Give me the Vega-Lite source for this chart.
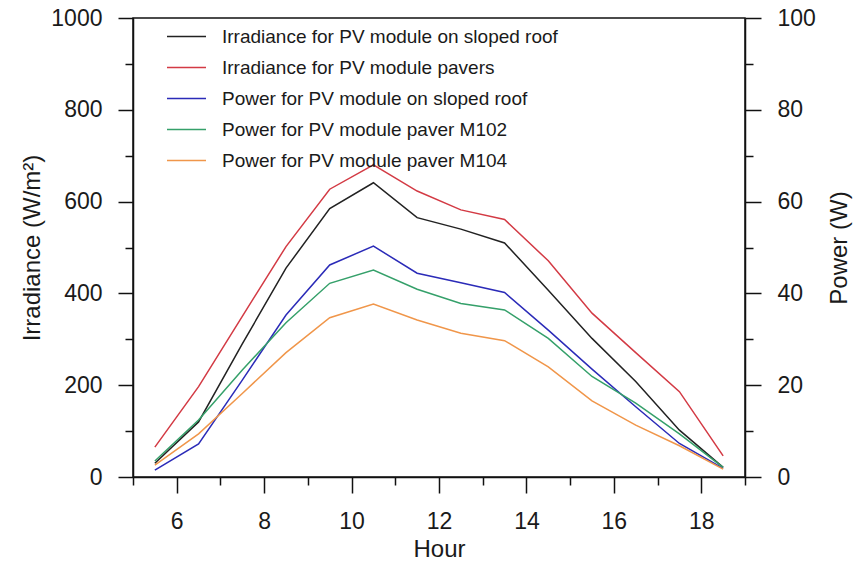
{
  "$schema": "https://vega.github.io/schema/vega-lite/v6.json",
  "width": 612,
  "height": 459,
  "autosize": {"type": "none"},
  "padding": {"left": 133, "top": 18, "right": 110, "bottom": 90},
  "background": "white",
  "config": {
    "view": {"stroke": "#111", "strokeWidth": 1.5},
    "font": "Liberation Sans",
    "axis": {
      "grid": false,
      "domainColor": "#111",
      "domainWidth": 1.5,
      "tickColor": "#111",
      "tickWidth": 1.5,
      "labelFont": "Liberation Sans",
      "labelFontSize": 23,
      "labelColor": "#1a1a1a",
      "titleFont": "Liberation Sans",
      "titleFontSize": 24,
      "titleFontWeight": "normal",
      "titleColor": "#1a1a1a"
    },
    "legend": {
      "labelFont": "Liberation Sans",
      "labelFontSize": 19,
      "labelColor": "#1a1a1a",
      "labelLimit": 0
    }
  },
  "data": {
    "values": [
      {"hour": 5.5, "series": "Irradiance for PV module on sloped roof", "kind": "irr", "value": 30},
      {"hour": 6.5, "series": "Irradiance for PV module on sloped roof", "kind": "irr", "value": 120},
      {"hour": 7.5, "series": "Irradiance for PV module on sloped roof", "kind": "irr", "value": 290},
      {"hour": 8.5, "series": "Irradiance for PV module on sloped roof", "kind": "irr", "value": 455},
      {"hour": 9.5, "series": "Irradiance for PV module on sloped roof", "kind": "irr", "value": 585},
      {"hour": 10.5, "series": "Irradiance for PV module on sloped roof", "kind": "irr", "value": 641},
      {"hour": 11.5, "series": "Irradiance for PV module on sloped roof", "kind": "irr", "value": 565},
      {"hour": 12.5, "series": "Irradiance for PV module on sloped roof", "kind": "irr", "value": 540},
      {"hour": 13.5, "series": "Irradiance for PV module on sloped roof", "kind": "irr", "value": 510},
      {"hour": 14.5, "series": "Irradiance for PV module on sloped roof", "kind": "irr", "value": 407},
      {"hour": 15.5, "series": "Irradiance for PV module on sloped roof", "kind": "irr", "value": 302},
      {"hour": 16.5, "series": "Irradiance for PV module on sloped roof", "kind": "irr", "value": 208},
      {"hour": 17.5, "series": "Irradiance for PV module on sloped roof", "kind": "irr", "value": 102},
      {"hour": 18.5, "series": "Irradiance for PV module on sloped roof", "kind": "irr", "value": 21},

      {"hour": 5.5, "series": "Irradiance for PV module pavers", "kind": "irr", "value": 65},
      {"hour": 6.5, "series": "Irradiance for PV module pavers", "kind": "irr", "value": 197},
      {"hour": 7.5, "series": "Irradiance for PV module pavers", "kind": "irr", "value": 350},
      {"hour": 8.5, "series": "Irradiance for PV module pavers", "kind": "irr", "value": 502},
      {"hour": 9.5, "series": "Irradiance for PV module pavers", "kind": "irr", "value": 627},
      {"hour": 10.5, "series": "Irradiance for PV module pavers", "kind": "irr", "value": 680},
      {"hour": 11.5, "series": "Irradiance for PV module pavers", "kind": "irr", "value": 623},
      {"hour": 12.5, "series": "Irradiance for PV module pavers", "kind": "irr", "value": 582},
      {"hour": 13.5, "series": "Irradiance for PV module pavers", "kind": "irr", "value": 561},
      {"hour": 14.5, "series": "Irradiance for PV module pavers", "kind": "irr", "value": 471},
      {"hour": 15.5, "series": "Irradiance for PV module pavers", "kind": "irr", "value": 357},
      {"hour": 16.5, "series": "Irradiance for PV module pavers", "kind": "irr", "value": 271},
      {"hour": 17.5, "series": "Irradiance for PV module pavers", "kind": "irr", "value": 186},
      {"hour": 18.5, "series": "Irradiance for PV module pavers", "kind": "irr", "value": 46},

      {"hour": 5.5, "series": "Power for PV module on sloped roof", "kind": "pow", "value": 1.5},
      {"hour": 6.5, "series": "Power for PV module on sloped roof", "kind": "pow", "value": 7.2},
      {"hour": 7.5, "series": "Power for PV module on sloped roof", "kind": "pow", "value": 21.1},
      {"hour": 8.5, "series": "Power for PV module on sloped roof", "kind": "pow", "value": 35.3},
      {"hour": 9.5, "series": "Power for PV module on sloped roof", "kind": "pow", "value": 46.2},
      {"hour": 10.5, "series": "Power for PV module on sloped roof", "kind": "pow", "value": 50.3},
      {"hour": 11.5, "series": "Power for PV module on sloped roof", "kind": "pow", "value": 44.4},
      {"hour": 12.5, "series": "Power for PV module on sloped roof", "kind": "pow", "value": 42.3},
      {"hour": 13.5, "series": "Power for PV module on sloped roof", "kind": "pow", "value": 40.2},
      {"hour": 14.5, "series": "Power for PV module on sloped roof", "kind": "pow", "value": 32.0},
      {"hour": 15.5, "series": "Power for PV module on sloped roof", "kind": "pow", "value": 23.5},
      {"hour": 16.5, "series": "Power for PV module on sloped roof", "kind": "pow", "value": 15.3},
      {"hour": 17.5, "series": "Power for PV module on sloped roof", "kind": "pow", "value": 7.3},
      {"hour": 18.5, "series": "Power for PV module on sloped roof", "kind": "pow", "value": 1.9},

      {"hour": 5.5, "series": "Power for PV module paver M102", "kind": "pow", "value": 3.5},
      {"hour": 6.5, "series": "Power for PV module paver M102", "kind": "pow", "value": 12.4},
      {"hour": 7.5, "series": "Power for PV module paver M102", "kind": "pow", "value": 23.3},
      {"hour": 8.5, "series": "Power for PV module paver M102", "kind": "pow", "value": 33.6},
      {"hour": 9.5, "series": "Power for PV module paver M102", "kind": "pow", "value": 42.2},
      {"hour": 10.5, "series": "Power for PV module paver M102", "kind": "pow", "value": 45.1},
      {"hour": 11.5, "series": "Power for PV module paver M102", "kind": "pow", "value": 40.9},
      {"hour": 12.5, "series": "Power for PV module paver M102", "kind": "pow", "value": 37.8},
      {"hour": 13.5, "series": "Power for PV module paver M102", "kind": "pow", "value": 36.4},
      {"hour": 14.5, "series": "Power for PV module paver M102", "kind": "pow", "value": 30.2},
      {"hour": 15.5, "series": "Power for PV module paver M102", "kind": "pow", "value": 21.9},
      {"hour": 16.5, "series": "Power for PV module paver M102", "kind": "pow", "value": 16.1},
      {"hour": 17.5, "series": "Power for PV module paver M102", "kind": "pow", "value": 9.4},
      {"hour": 18.5, "series": "Power for PV module paver M102", "kind": "pow", "value": 2.1},

      {"hour": 5.5, "series": "Power for PV module paver M104", "kind": "pow", "value": 2.6},
      {"hour": 6.5, "series": "Power for PV module paver M104", "kind": "pow", "value": 9.4},
      {"hour": 7.5, "series": "Power for PV module paver M104", "kind": "pow", "value": 18.2},
      {"hour": 8.5, "series": "Power for PV module paver M104", "kind": "pow", "value": 27.1},
      {"hour": 9.5, "series": "Power for PV module paver M104", "kind": "pow", "value": 34.7},
      {"hour": 10.5, "series": "Power for PV module paver M104", "kind": "pow", "value": 37.7},
      {"hour": 11.5, "series": "Power for PV module paver M104", "kind": "pow", "value": 34.2},
      {"hour": 12.5, "series": "Power for PV module paver M104", "kind": "pow", "value": 31.3},
      {"hour": 13.5, "series": "Power for PV module paver M104", "kind": "pow", "value": 29.7},
      {"hour": 14.5, "series": "Power for PV module paver M104", "kind": "pow", "value": 24.0},
      {"hour": 15.5, "series": "Power for PV module paver M104", "kind": "pow", "value": 16.6},
      {"hour": 16.5, "series": "Power for PV module paver M104", "kind": "pow", "value": 11.3},
      {"hour": 17.5, "series": "Power for PV module paver M104", "kind": "pow", "value": 6.8},
      {"hour": 18.5, "series": "Power for PV module paver M104", "kind": "pow", "value": 1.7}
    ]
  },
  "encoding": {
    "x": {
      "field": "hour",
      "type": "quantitative",
      "scale": {"domain": [5, 19], "nice": false, "zero": false},
      "axis": {
        "title": "Hour",
        "values": [5, 6, 7, 8, 9, 10, 11, 12, 13, 14, 15, 16, 17, 18, 19],
        "labelExpr": "datum.value % 2 === 0 && datum.value > 5 && datum.value < 19 ? datum.label : ''",
        "tickSize": {"condition": {"test": "datum.value % 2 === 0", "value": 16}, "value": 8},
        "labelPadding": 17,
        "titlePadding": 4,
        "labelFlush": false
      }
    },
    "color": {
      "field": "series",
      "type": "nominal",
      "scale": {
        "domain": [
          "Irradiance for PV module on sloped roof",
          "Irradiance for PV module pavers",
          "Power for PV module on sloped roof",
          "Power for PV module paver M102",
          "Power for PV module paver M104"
        ],
        "range": ["#222222", "#d33a44", "#2b2bb8", "#35a06a", "#f0964a"]
      },
      "legend": {
        "title": null,
        "orient": "none",
        "legendX": 33,
        "legendY": -2,
        "symbolType": "stroke",
        "symbolSize": 1521,
        "symbolStrokeWidth": 1.5,
        "labelOffset": 15,
        "labelLimit": 0,
        "rowPadding": -5.5,
        "padding": 0
      }
    }
  },
  "layer": [
    {
      "transform": [{"filter": "datum.kind === 'irr'"}],
      "mark": {"type": "line", "strokeWidth": 1.5},
      "encoding": {
        "y": {
          "field": "value",
          "type": "quantitative",
          "scale": {"domain": [0, 1000], "nice": false},
          "axis": {
            "title": "Irradiance (W/m²)",
            "values": [0, 100, 200, 300, 400, 500, 600, 700, 800, 900, 1000],
            "labelExpr": "datum.value % 200 === 0 ? datum.label : ''",
            "tickSize": {"condition": {"test": "datum.value % 200 === 0", "value": 15}, "value": 8},
            "labelPadding": 16,
            "titlePadding": 6,
            "format": "d"
          }
        }
      }
    },
    {
      "transform": [{"filter": "datum.kind === 'pow'"}],
      "mark": {"type": "line", "strokeWidth": 1.5},
      "encoding": {
        "y": {
          "field": "value",
          "type": "quantitative",
          "scale": {"domain": [0, 100], "nice": false},
          "axis": {
            "title": "Power (W)",
            "orient": "right",
            "titleAngle": 270,
            "values": [0, 10, 20, 30, 40, 50, 60, 70, 80, 90, 100],
            "labelExpr": "datum.value % 20 === 0 ? datum.label : ''",
            "tickSize": {"condition": {"test": "datum.value % 20 === 0", "value": 16}, "value": 8},
            "labelPadding": 16,
            "titlePadding": 36
          }
        }
      }
    }
  ],
  "resolve": {"scale": {"y": "independent"}, "axis": {"y": "independent"}}
}
